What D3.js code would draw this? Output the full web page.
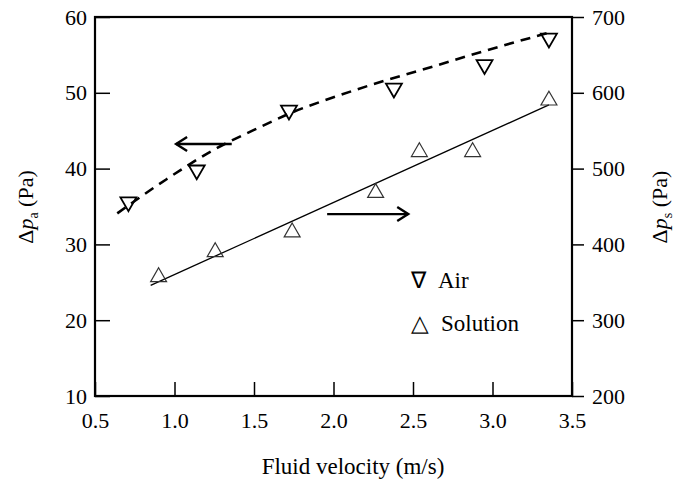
<!DOCTYPE html>
<html>
<head>
<meta charset="UTF-8">
<script src="https://d3js.org/d3.v7.min.js"></script>
<style>
  body { margin: 0; background: #fff; }
</style>
</head>
<body>
<svg width="681" height="481"></svg>
<script>
// ticks
const xTicks = [0.5, 1.0, 1.5, 2.0, 2.5, 3.0, 3.5];
const leftTicks = [10, 20, 30, 40, 50, 60];
const rightTicks = [200, 300, 400, 500, 600, 700];

// air (left axis, Pa)
const airV = [0.71, 1.14, 1.72, 2.38, 2.95, 3.355];
const airP = [35.6, 39.8, 47.7, 50.6, 53.7, 57.2];
// dashed fitted curve for air
const airFitV = [0.64, 0.95, 1.24, 1.5, 1.75, 2.0, 2.23, 2.6, 2.93, 3.35];
const airFitP = [34.1, 38.6, 42.4, 45.1, 47.5, 49.4, 51.0, 53.3, 55.4, 57.9];

// solution (right axis, Pa)
const solV = [0.90, 1.256, 1.74, 2.265, 2.54, 2.875, 3.355];
const solP = [357, 390, 416, 468, 522, 522, 590];
// straight fitted line for solution
const solFitV = [0.85, 3.355];
const solFitP = [346, 584];

const FONT = "Liberation Serif";
const svg = d3.select("svg");
const x = d3.scaleLinear().domain([0.5, 3.5]).range([95, 572]);
const yL = d3.scaleLinear().domain([10, 60]).range([396, 17]);
const yR = d3.scaleLinear().domain([200, 700]).range([396, 17]);

function styleAxis(g) {
  g.attr("font-family", FONT).attr("font-size", 22);
  g.select(".domain").remove();
  g.selectAll(".tick line").attr("stroke", "#000").attr("stroke-width", 1.5);
  g.selectAll(".tick text").attr("fill", "#000")
    .attr("font-family", FONT).attr("font-size", 22);
}

svg.append("g")
  .attr("transform", "translate(0,396)")
  .call(d3.axisBottom(x).tickValues(xTicks).tickSizeInner(-14).tickSizeOuter(0)
    .tickPadding(16).tickFormat(d3.format(".1f")))
  .call(styleAxis);

svg.append("g")
  .attr("transform", "translate(95,0)")
  .call(d3.axisLeft(yL).tickValues(leftTicks).tickSizeInner(-15).tickSizeOuter(0).tickPadding(8))
  .call(styleAxis);

svg.append("g")
  .attr("transform", "translate(572,0)")
  .call(d3.axisRight(yR).tickValues(rightTicks).tickSizeInner(12).tickSizeOuter(0).tickPadding(8))
  .call(styleAxis);

// frame
svg.append("rect")
  .attr("x", x(0.5)).attr("y", yL(60))
  .attr("width", x(3.5) - x(0.5)).attr("height", yL(10) - yL(60))
  .attr("fill", "none").attr("stroke", "#000").attr("stroke-width", 2.2);

// fitted lines
const airLine = d3.line().curve(d3.curveMonotoneX).x(d => x(d[0])).y(d => yL(d[1]));
svg.append("path")
  .attr("d", airLine(d3.zip(airFitV, airFitP)))
  .attr("fill", "none").attr("stroke", "#000").attr("stroke-width", 2.6)
  .attr("stroke-dasharray", "10,7");

const solLine = d3.line().x(d => x(d[0])).y(d => yR(d[1]));
svg.append("path")
  .attr("d", solLine(d3.zip(solFitV, solFitP)))
  .attr("fill", "none").attr("stroke", "#000").attr("stroke-width", 1.3);

// markers
const tri = d3.symbol().type(d3.symbolTriangle).size(110);
svg.selectAll(".air").data(d3.zip(airV, airP)).enter().append("path")
  .attr("class", "air")
  .attr("d", tri)
  .attr("transform", d => `translate(${x(d[0])},${yL(d[1])}) rotate(180)`)
  .attr("fill", "none").attr("stroke", "#000").attr("stroke-width", 1.8);

svg.selectAll(".sol").data(d3.zip(solV, solP)).enter().append("path")
  .attr("class", "sol")
  .attr("d", tri)
  .attr("transform", d => `translate(${x(d[0])},${yR(d[1])})`)
  .attr("fill", "none").attr("stroke", "#333").attr("stroke-width", 1.2);

// arrows
function arrow(x1, x2, yy, dir) {
  svg.append("line")
    .attr("x1", x1).attr("x2", x2).attr("y1", yy).attr("y2", yy)
    .attr("stroke", "#000").attr("stroke-width", 2.4);
  svg.append("path")
    .attr("d", `M${x2 - dir * 11},${yy - 7}L${x2},${yy}L${x2 - dir * 11},${yy + 7}`)
    .attr("fill", "none").attr("stroke", "#000").attr("stroke-width", 2.4);
}
arrow(x(1.36), x(1.01), yL(43.25), -1);
arrow(x(1.96), x(2.47), yR(440), 1);

// legend
const legend = svg.append("g").attr("font-family", FONT).attr("font-size", 23);
legend.append("text").attr("x", 411).attr("y", 288).text("\u2207");
legend.append("text").attr("x", 438).attr("y", 288).text("Air");
legend.append("text").attr("x", 411).attr("y", 331).text("\u25B3");
legend.append("text").attr("x", 441).attr("y", 331).text("Solution");

// axis titles
svg.append("text")
  .attr("text-anchor", "middle")
  .attr("x", 353).attr("y", 474)
  .attr("font-family", FONT).attr("font-size", 23)
  .text("Fluid velocity (m/s)");

function yTitle(tx, ty, sub) {
  const t = svg.append("text")
    .attr("text-anchor", "middle")
    .attr("transform", `translate(${tx},${ty}) rotate(-90)`)
    .attr("font-family", FONT).attr("font-size", 22);
  t.append("tspan").text("\u0394");
  t.append("tspan").attr("font-style", "italic").text("p");
  t.append("tspan").attr("dy", 5).attr("font-size", 14).text(sub);
  t.append("tspan").attr("dy", -5).text(" (Pa)");
}
yTitle(33, 207, "a");
yTitle(667, 207, "s");
</script>
</body>
</html>
